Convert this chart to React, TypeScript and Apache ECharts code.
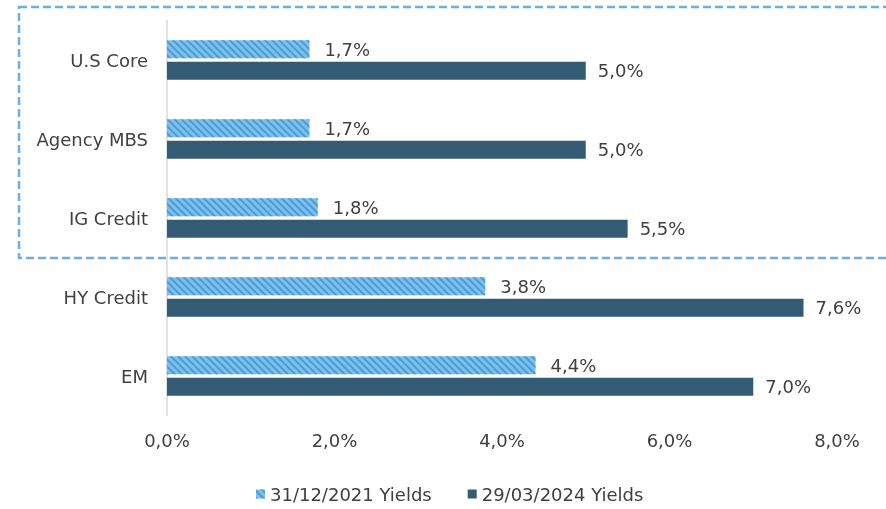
import React, { useEffect, useRef } from "react";
import * as echarts from "echarts";

const categories = ["U.S Core", "Agency MBS", "IG Credit", "HY Credit", "EM"];
const yields2021 = [1.7, 1.7, 1.8, 3.8, 4.4];
const yields2024 = [5.0, 5.0, 5.5, 7.6, 7.0];
const seriesNames = ["31/12/2021 Yields", "29/03/2024 Yields"];
const xTicks = { min: 0, max: 8, interval: 2 };

const FONT = "'DejaVu Sans', sans-serif";
const TEXT = "#404040";
const FS = 18;

const fmt = (v: number) => v.toFixed(1).replace(".", ",") + "%";

export default function App() {
  const ref = useRef<HTMLDivElement>(null);
  useEffect(() => {
    if (!ref.current) return;
    const chart = echarts.init(ref.current, undefined, { renderer: "svg" });
    chart.setOption({
      animation: false,
      textStyle: { fontFamily: FONT, color: TEXT },
      grid: { left: 167, right: 49, top: 20.5, bottom: 93.5, containLabel: false },
      legend: {
        bottom: 1,
        left: 251,
        icon: "rect",
        itemWidth: 9,
        itemHeight: 9,
        itemGap: 36,
        textStyle: { fontFamily: FONT, fontSize: FS, color: TEXT },
        data: seriesNames,
      },
      xAxis: {
        type: "value",
        min: xTicks.min,
        max: xTicks.max,
        interval: xTicks.interval,
        axisLine: { show: false },
        axisTick: { show: false },
        splitLine: { show: false },
        axisLabel: {
          formatter: (v: number) => fmt(v),
          fontFamily: FONT,
          fontSize: FS,
          color: TEXT,
          margin: 16,
        },
      },
      yAxis: {
        type: "category",
        data: categories,
        inverse: true,
        axisLine: { show: true, lineStyle: { color: "#D9D9D9", width: 1.5 } },
        axisTick: { show: false },
        axisLabel: { fontFamily: FONT, fontSize: FS, color: TEXT, margin: 19 },
      },
      series: [
        {
          name: seriesNames[0],
          type: "bar",
          data: yields2021,
          barWidth: 18,
          barGap: "20%",
          itemStyle: {
            color: "#7CC0EC",
            decal: {
              symbol: "rect",
              symbolSize: 1,
              color: "#4A9BD6",
              dashArrayX: [1, 0],
              dashArrayY: [1.5, 3],
              rotation: Math.PI / 4,
            },
          },
          label: {
            show: true,
            position: "right",
            distance: 15,
            formatter: (p: any) => fmt(p.value),
            fontFamily: FONT,
            fontSize: FS,
            color: TEXT,
          },
        },
        {
          name: seriesNames[1],
          type: "bar",
          data: yields2024,
          barWidth: 18,
          itemStyle: { color: "#335B74" },
          label: {
            show: true,
            position: "right",
            distance: 12,
            formatter: (p: any) => fmt(p.value),
            fontFamily: FONT,
            fontSize: FS,
            color: TEXT,
          },
        },
      ],
      graphic: [
        {
          type: "rect",
          shape: { x: 19, y: 7, width: 2000, height: 251 },
          style: {
            fill: "none",
            stroke: "#6AAFE0",
            lineWidth: 2.5,
            lineDash: [8, 4],
          },
          silent: true,
        },
      ],
    });
    return () => chart.dispose();
  }, []);
  return (
    <div
      ref={ref}
      style={{ position: "fixed", left: 0, top: 0, width: 886, height: 509 }}
    />
  );
}
